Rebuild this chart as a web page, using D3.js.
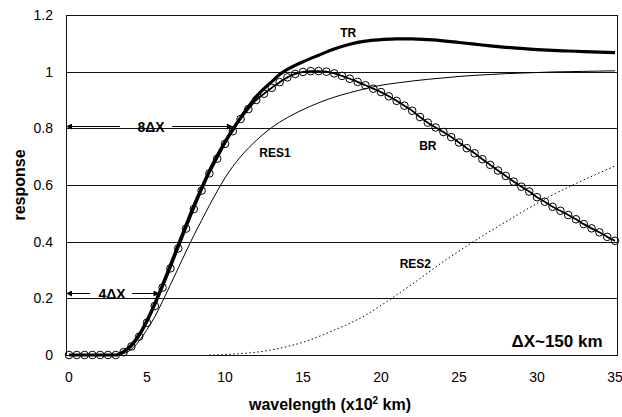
<!DOCTYPE html>
<html>
<head>
<meta charset="utf-8">
<script src="https://cdn.jsdelivr.net/npm/d3@7"></script>
<style>
    body { margin: 0; background: #fff; }
    text { font-family: "Liberation Sans", Arial, sans-serif; fill: #000; }
</style>
</head>
<body>
<div id="chart"></div>
<script>
// Wavelength axis (x10^2 km) and the tick labels.
var xTicks = [0, 5, 10, 15, 20, 25, 30, 35];
var yTicks = [0, 0.2, 0.4, 0.6, 0.8, 1, 1.2];

// BR is sampled every 0.5 (one circle per sample).
var brX = d3.range(0, 35.5, 0.5);
var brY = [0, 0, 0, 0, 0, 0, 0, 0.01, 0.03, 0.065,
    0.114, 0.173, 0.238, 0.306, 0.376, 0.446, 0.515, 0.58, 0.641, 0.693,
    0.745, 0.79, 0.833, 0.868, 0.9, 0.922, 0.943, 0.963, 0.98, 0.992,
    0.999, 1.002, 1.002, 1.0, 0.994, 0.985, 0.975, 0.964, 0.952, 0.94,
    0.928, 0.913, 0.897, 0.88, 0.862, 0.84, 0.82, 0.803, 0.787, 0.769,
    0.75, 0.73, 0.712, 0.691, 0.671, 0.651, 0.632, 0.612, 0.594, 0.577,
    0.557, 0.541, 0.523, 0.509, 0.494, 0.479, 0.462, 0.447, 0.433, 0.417,
    0.403];

// TR: total response.
var trX = [0, 0.5, 1, 1.5, 2, 2.5, 3, 3.5, 4, 4.5, 5, 5.5, 6, 6.5, 7, 7.5, 8,
    8.5, 9, 9.5, 10, 10.5, 11, 11.5, 12, 12.5, 13, 13.5, 14, 14.5, 15,
    16, 17, 18, 19, 20, 21, 22, 23, 24, 25, 26, 27, 28, 29, 30, 31, 32,
    33, 34, 35];
var trY = [0, 0, 0, 0, 0, 0, 0, 0.012, 0.035, 0.072, 0.122, 0.182, 0.248,
    0.317, 0.388, 0.458, 0.526, 0.59, 0.65, 0.703, 0.752, 0.797, 0.838,
    0.876, 0.912, 0.94, 0.965, 0.99, 1.008, 1.022, 1.035,
    1.058, 1.08, 1.097, 1.108, 1.113, 1.116, 1.116, 1.113, 1.109, 1.103,
    1.097, 1.091, 1.086, 1.082, 1.078, 1.075, 1.073, 1.071, 1.069, 1.067];

// RES1 and RES2.
var resX = [0, 1, 2, 3, 3.5, 4, 4.5, 5, 5.5, 6, 6.5, 7, 7.5, 8, 8.5, 9, 9.5,
    10, 11, 12, 13, 14, 15, 16, 17, 18, 19, 20, 21, 22, 23, 24, 25, 26,
    27, 28, 29, 30, 31, 32, 33, 34, 35];
var res1Y = [0, 0, 0, 0, 0.005, 0.02, 0.05, 0.09, 0.135, 0.19, 0.248, 0.306,
    0.365, 0.422, 0.475, 0.528, 0.578, 0.625, 0.7, 0.757, 0.803, 0.838,
    0.866, 0.89, 0.91, 0.926, 0.94, 0.952, 0.96, 0.967, 0.973, 0.978,
    0.983, 0.987, 0.99, 0.993, 0.995, 0.997, 0.999, 1.0, 1.001, 1.002,
    1.003];
var res2Y = [0, 0, 0, 0, 0, 0, 0, 0, 0, 0, 0, 0, 0, 0, 0, 0, 0,
    0.002, 0.005, 0.01, 0.018, 0.03, 0.045, 0.065, 0.088, 0.112, 0.14,
    0.175, 0.212, 0.25, 0.29, 0.33, 0.367, 0.403, 0.437, 0.47, 0.503,
    0.535, 0.565, 0.592, 0.618, 0.643, 0.667];

(function () {
    var width = 622,
        height = 417,
        left = 66,
        right = 617,
        top = 15,
        bottom = 355;

    var svg = d3.select('#chart').append('svg')
        .attr('width', width)
        .attr('height', height);

    var x = d3.scaleLinear().domain([0, 35]).range([69, 615]),
        y = d3.scaleLinear().domain([0, 1.2]).range([bottom, top]);

    // Gridlines, one per y tick.
    svg.append('g').selectAll('line')
        .data(yTicks)
        .enter().append('line')
        .attr('x1', left)
        .attr('x2', right)
        .attr('y1', function (d) { return Math.round(y(d)) + 0.5; })
        .attr('y2', function (d) { return Math.round(y(d)) + 0.5; })
        .attr('stroke', '#111')
        .attr('stroke-width', 1);

    // Frame sides.
    svg.append('line')
        .attr('x1', left + 0.5).attr('x2', left + 0.5)
        .attr('y1', top).attr('y2', bottom + 1)
        .attr('stroke', '#111');
    svg.append('line')
        .attr('x1', right + 0.5).attr('x2', right + 0.5)
        .attr('y1', top).attr('y2', bottom + 1)
        .attr('stroke', '#111');

    // Axis labels.
    svg.append('g').selectAll('text')
        .data(yTicks)
        .enter().append('text')
        .attr('x', 53)
        .attr('y', function (d) { return y(d) + 5; })
        .attr('text-anchor', 'end')
        .attr('font-size', '14px')
        .text(function (d) { return d; });

    svg.append('g').selectAll('text')
        .data(xTicks)
        .enter().append('text')
        .attr('x', function (d) { return x(d); })
        .attr('y', 382)
        .attr('text-anchor', 'middle')
        .attr('font-size', '14px')
        .text(function (d) { return d; });

    var xTitle = svg.append('text')
        .attr('x', 330)
        .attr('y', 410)
        .attr('text-anchor', 'middle')
        .attr('font-size', '16px')
        .attr('font-weight', 'bold');
    xTitle.append('tspan').text('wavelength (x10');
    xTitle.append('tspan').attr('font-size', '10px').attr('dy', -6).text('2');
    xTitle.append('tspan').attr('dy', 6).text(' km)');

    svg.append('text')
        .attr('transform', 'translate(25,185) rotate(-90)')
        .attr('text-anchor', 'middle')
        .attr('font-size', '16px')
        .attr('font-weight', 'bold')
        .text('response');

    // Curves.
    var line = d3.line()
        .x(function (d) { return x(d[0]); })
        .y(function (d) { return y(d[1]); })
        .curve(d3.curveMonotoneX);

    svg.append('path')
        .datum(d3.zip(resX, res2Y).filter(function (d, i) { return resX[i] >= 9; }))
        .attr('d', line)
        .attr('fill', 'none')
        .attr('stroke', '#000')
        .attr('stroke-width', 1)
        .attr('stroke-dasharray', '1.5,2.5');

    svg.append('path')
        .datum(d3.zip(resX, res1Y))
        .attr('d', line)
        .attr('fill', 'none')
        .attr('stroke', '#000')
        .attr('stroke-width', 1);

    svg.append('path')
        .datum(d3.zip(brX, brY))
        .attr('d', line)
        .attr('fill', 'none')
        .attr('stroke', '#000')
        .attr('stroke-width', 1.8);

    svg.append('g').selectAll('circle')
        .data(d3.zip(brX, brY))
        .enter().append('circle')
        .attr('cx', function (d) { return x(d[0]); })
        .attr('cy', function (d) { return y(d[1]); })
        .attr('r', 3.8)
        .attr('fill', 'none')
        .attr('stroke', '#000')
        .attr('stroke-width', 1);

    svg.append('path')
        .datum(d3.zip(trX, trY))
        .attr('d', line)
        .attr('fill', 'none')
        .attr('stroke', '#000')
        .attr('stroke-width', 3.2);

    // Curve labels.
    var labels = [
        {t: 'TR', u: 17.9, v: 1.123},
        {t: 'BR', u: 23.0, v: 0.723},
        {t: 'RES1', u: 13.2, v: 0.70},
        {t: 'RES2', u: 22.2, v: 0.307}
    ];
    svg.append('g').selectAll('text')
        .data(labels)
        .enter().append('text')
        .attr('x', function (d) { return x(d.u); })
        .attr('y', function (d) { return y(d.v); })
        .attr('text-anchor', 'middle')
        .attr('font-size', '12px')
        .attr('font-weight', 'bold')
        .text(function (d) { return d.t; });

    // Arrow annotations.
    svg.append('defs').append('marker')
        .attr('id', 'head')
        .attr('viewBox', '0 0 10 10')
        .attr('refX', 10)
        .attr('refY', 5)
        .attr('markerWidth', 8)
        .attr('markerHeight', 6)
        .attr('markerUnits', 'userSpaceOnUse')
        .attr('orient', 'auto')
        .append('path')
        .attr('d', 'M0,0L10,5L0,10Z')
        .attr('fill', '#000');

    function spanArrow(label, uEnd, v, textU, gapL, gapR) {
        var yy = Math.round(y(v)) + 0.5,
            tx = x(textU);
        svg.append('line')
            .attr('x1', tx - gapL).attr('x2', left)
            .attr('y1', yy).attr('y2', yy)
            .attr('stroke', '#000')
            .attr('marker-end', 'url(#head)');
        svg.append('line')
            .attr('x1', tx + gapR).attr('x2', x(uEnd))
            .attr('y1', yy).attr('y2', yy)
            .attr('stroke', '#000')
            .attr('marker-end', 'url(#head)');
        svg.append('text')
            .attr('x', tx)
            .attr('y', yy + 5)
            .attr('text-anchor', 'middle')
            .attr('font-size', '14px')
            .attr('font-weight', 'bold')
            .text(label);
    }
    spanArrow('8\u0394X', 10.5, 0.807, 5.26, 31, 21);
    spanArrow('4\u0394X', 5.8, 0.22, 2.76, 22, 20);

    svg.append('text')
        .attr('x', 557)
        .attr('y', 347)
        .attr('text-anchor', 'middle')
        .attr('font-size', '17px')
        .attr('font-weight', 'bold')
        .text('\u0394X~150 km');
}());
</script>
</body>
</html>
